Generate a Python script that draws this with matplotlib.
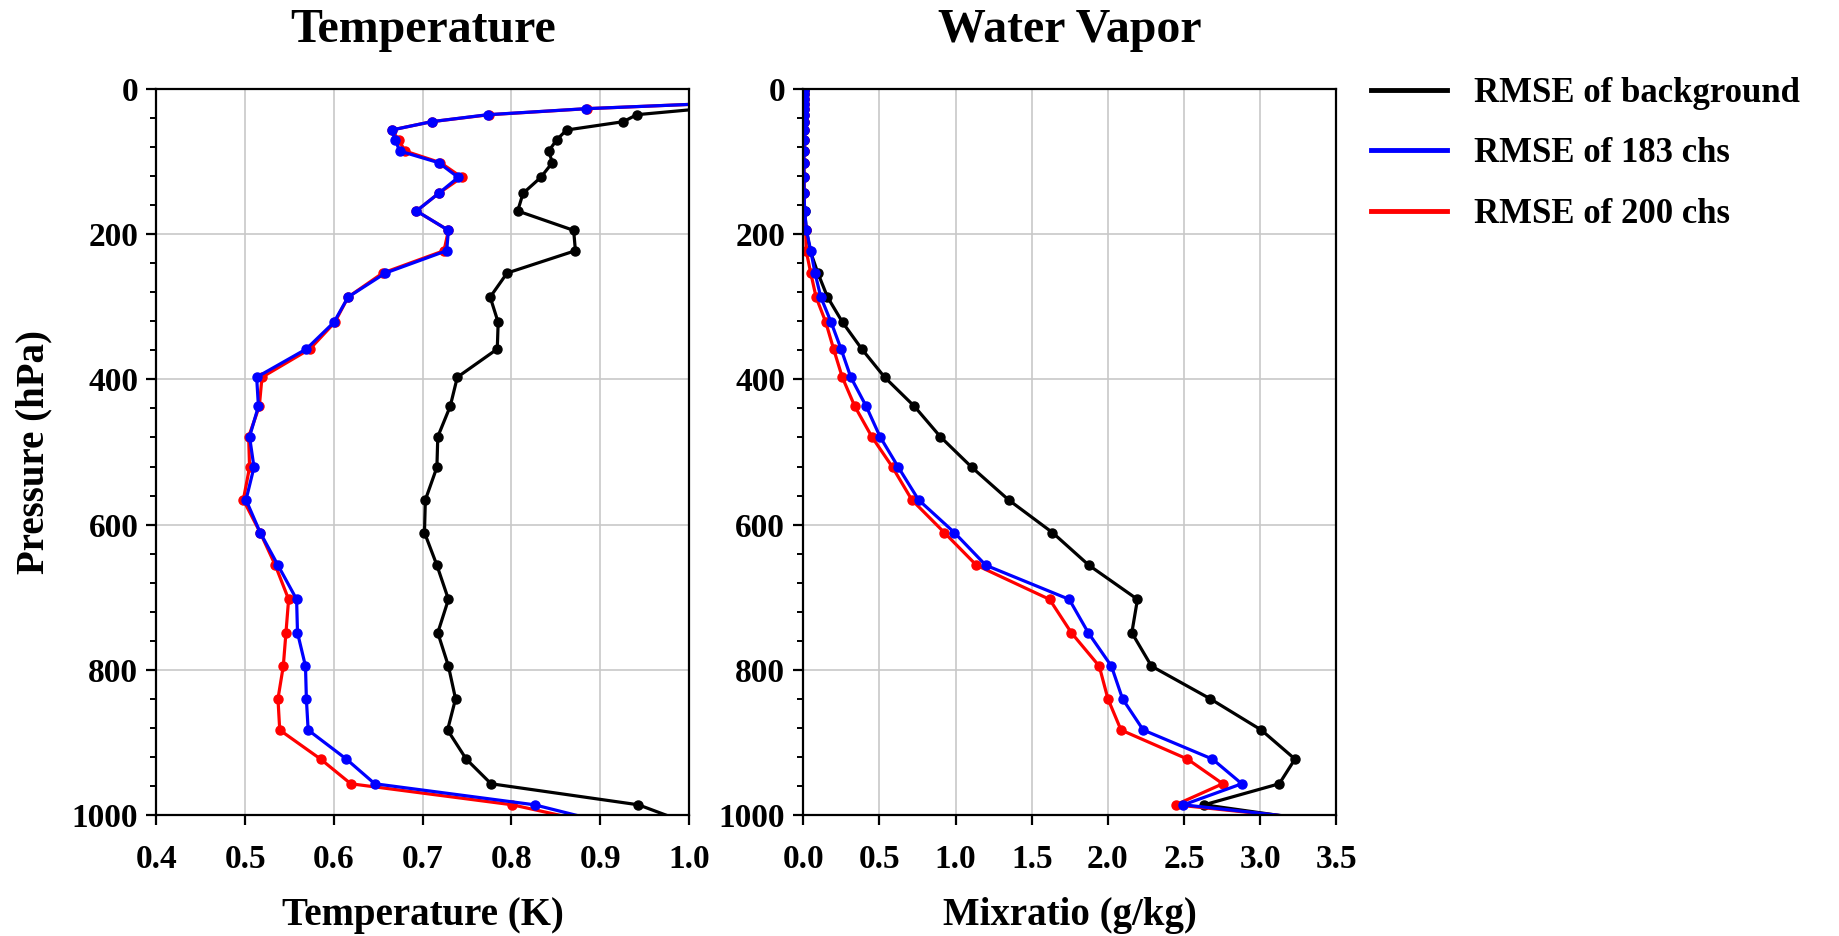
import numpy as np
import matplotlib
matplotlib.use('Agg')
from matplotlib import pyplot as plt

plt.rcParams['font.family'] = ['Liberation Serif', 'DejaVu Serif']
plt.rcParams['font.weight'] = 'bold'
plt.rcParams['axes.labelweight'] = 'bold'
plt.rcParams['axes.titleweight'] = 'bold'

# pressure levels (hPa)
plev = [0.1, 2, 6.5, 13.4, 20.2, 27.1, 35.4, 45, 56.5, 69.8, 85.4, 101.5, 121.7, 143.7,
        168, 194.7, 222.7, 253.5, 286.6, 321.4, 358.1, 397, 437, 479, 521, 566, 611,
        656, 703, 749, 795, 840, 883, 923, 957, 986, 1013]

# temperature RMSE (K)
t_bg = [1.70, 1.55, 1.40, 1.20, 1.08, 1.015, 0.941, 0.926, 0.862, 0.851, 0.842, 0.846, 0.833,
        0.813, 0.807, 0.870, 0.872, 0.795, 0.776, 0.785, 0.784, 0.739, 0.731, 0.717, 0.716,
        0.703, 0.702, 0.716, 0.729, 0.717, 0.729, 0.737, 0.728, 0.749, 0.777, 0.943, 1.002]
t_183 = [1.60, 1.45, 1.30, 1.15, 1.02, 0.884, 0.773, 0.710, 0.665, 0.669, 0.674, 0.718, 0.740,
         0.718, 0.693, 0.729, 0.727, 0.658, 0.616, 0.600, 0.569, 0.513, 0.515, 0.505, 0.510,
         0.501, 0.517, 0.537, 0.558, 0.559, 0.568, 0.569, 0.571, 0.614, 0.646, 0.826, 0.914]
t_200 = [1.60, 1.45, 1.30, 1.15, 1.02, 0.885, 0.775, 0.710, 0.665, 0.673, 0.680, 0.720, 0.744,
         0.718, 0.693, 0.729, 0.724, 0.655, 0.616, 0.601, 0.573, 0.519, 0.516, 0.504, 0.505,
         0.498, 0.517, 0.534, 0.549, 0.546, 0.543, 0.537, 0.539, 0.585, 0.619, 0.801, 0.901]

# water vapor RMSE (g/kg)
q_bg = [0.002, 0.002, 0.002, 0.002, 0.002, 0.002, 0.002, 0.002, 0.003, 0.003, 0.003, 0.003,
        0.004, 0.005, 0.009, 0.020, 0.045, 0.096, 0.159, 0.258, 0.384, 0.534, 0.729, 0.900,
        1.106, 1.348, 1.636, 1.875, 2.194, 2.157, 2.286, 2.672, 3.007, 3.228, 3.125, 2.632, 3.54]
q_183 = [0.002, 0.002, 0.002, 0.002, 0.002, 0.002, 0.002, 0.002, 0.003, 0.003, 0.003, 0.003,
         0.004, 0.005, 0.009, 0.021, 0.049, 0.077, 0.115, 0.183, 0.248, 0.312, 0.413, 0.504,
         0.624, 0.757, 0.992, 1.198, 1.746, 1.871, 2.023, 2.096, 2.232, 2.686, 2.879, 2.496, 3.665]
q_200 = [0.002, 0.002, 0.002, 0.002, 0.002, 0.002, 0.002, 0.002, 0.003, 0.003, 0.003, 0.003,
         0.004, 0.005, 0.008, 0.016, 0.019, 0.049, 0.084, 0.148, 0.199, 0.256, 0.338, 0.450,
         0.586, 0.713, 0.926, 1.137, 1.617, 1.760, 1.943, 2.000, 2.086, 2.522, 2.754, 2.445, 3.68]

labels = ['RMSE of background', 'RMSE of 183 chs', 'RMSE of 200 chs']
colors = ['black', 'blue', 'red']

fig = plt.figure(figsize=(18.39, 9.36), dpi=100)
ax1 = fig.add_axes([0.085, 0.1293, 0.2897, 0.7756])
ax2 = fig.add_axes([0.4368, 0.1293, 0.2899, 0.7756])

def style(ax, xlim, xticks, xlabel, title):
    ax.set_xlim(*xlim)
    ax.set_ylim(1000, 0)
    ax.set_xticks(xticks)
    ax.set_xticklabels(['%.1f' % v for v in xticks])
    ax.set_yticks(np.arange(0, 1001, 200))
    ax.set_yticks(np.arange(0, 1001, 40), minor=True)
    ax.grid(True, which='major', color='#c8c8c8', lw=1.2)
    ax.set_axisbelow(True)
    for s in ax.spines.values():
        s.set_linewidth(1.6)
    ax.tick_params(which='major', length=7, width=1.6, labelsize=24, pad=6)
    ax.tick_params(axis='x', which='major', pad=14)
    ax.tick_params(which='minor', length=4.5, width=1.4)
    ax.set_xlabel(xlabel, fontsize=28, labelpad=16)
    ax.set_title(title, fontsize=34.5, pad=34)

# draw order: background, 200 chs, 183 chs (blue on top)
order = [0, 2, 1]
for ax, data in [(ax1, [t_bg, t_183, t_200]), (ax2, [q_bg, q_183, q_200])]:
    lines = [None] * 3
    for i in order:
        lines[i], = ax.plot(data[i], plev, color=colors[i], lw=2.3, marker='o', ms=6.5,
                            label=labels[i])

style(ax1, (0.4, 1.0), np.arange(0.4, 1.01, 0.1), 'Temperature (K)', 'Temperature')
style(ax2, (0.0, 3.5), np.arange(0.0, 3.51, 0.5), 'Mixratio (g/kg)', 'Water Vapor')
ax1.set_ylabel('Pressure (hPa)', fontsize=28, labelpad=14)

leg = ax2.legend(lines, labels, loc='upper left', bbox_to_anchor=(1.006, 1.06), frameon=False,
                 fontsize=25, handlelength=2.2, handletextpad=0.78, labelspacing=0.8)
for ln in leg.get_lines():
    ln.set_marker('')
    ln.set_linewidth(3.5)

fig.savefig('out.png', dpi=100)
